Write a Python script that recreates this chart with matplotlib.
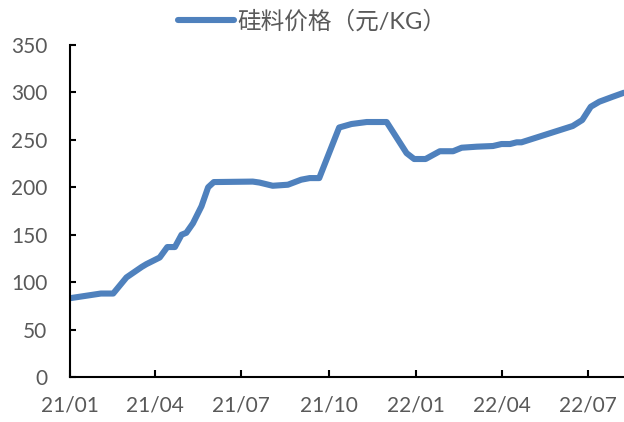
import numpy as np
import pandas as pd
import matplotlib
matplotlib.use('Agg')
from matplotlib import pyplot as plt
import matplotlib.dates as mdates

LINE_COLOR = '#4f81bd'
TEXT_COLOR = '#595959'

dates = ['2021-01-01', '2021-02-03', '2021-02-16', '2021-03-02', '2021-03-18',
         '2021-03-23', '2021-04-06', '2021-04-14', '2021-04-22', '2021-04-29',
         '2021-05-04', '2021-05-11', '2021-05-20', '2021-05-27', '2021-06-02',
         '2021-07-13', '2021-07-20', '2021-08-03', '2021-08-19', '2021-09-02',
         '2021-09-11', '2021-09-21', '2021-10-12', '2021-10-25', '2021-11-10',
         '2021-12-01', '2021-12-22', '2021-12-30', '2022-01-11', '2022-01-26',
         '2022-02-09', '2022-02-18', '2022-03-06', '2022-03-23', '2022-04-01',
         '2022-04-10', '2022-04-17', '2022-04-22', '2022-06-15', '2022-06-25',
         '2022-07-04', '2022-07-13', '2022-07-27', '2022-08-08']
prices = [83, 88, 88, 105, 116,
          119, 126, 137, 137, 150,
          152, 162, 180, 200, 205.5,
          206, 205, 201.6, 202.7, 208,
          209.7, 209.7, 263, 266.7, 268.8,
          268.8, 236, 229.8, 229.8, 238,
          238, 241.7, 242.8, 243.5, 245.6,
          245.6, 247.4, 247.4, 264.6, 270.9,
          284.9, 290.2, 295.4, 299.7]

tick_dates = ['2021-01-01', '2021-04-01', '2021-07-01', '2021-10-01',
              '2022-01-01', '2022-04-01', '2022-07-01']
tick_labels = ['21/01', '21/04', '21/07', '21/10', '22/01', '22/04', '22/07']
y_ticks = [0, 50, 100, 150, 200, 250, 300, 350]

plt.rcParams['font.family'] = ['Lato', 'Noto Sans CJK SC', 'DejaVu Sans']

x = pd.to_datetime(dates)

fig = plt.figure(figsize=(6.24, 4.22), dpi=100)
ax = fig.add_axes([0.1114, 0.1066, 0.8886, 0.7868])

ax.plot(x, prices, color=LINE_COLOR, linewidth=4.4, solid_joinstyle='round',
        solid_capstyle='round', label='硅料价格（元/KG）')

ax.set_xlim(pd.Timestamp('2021-01-01'), pd.Timestamp('2022-08-08'))
ax.set_ylim(0, 350)
ax.set_xticks(pd.to_datetime(tick_dates))
ax.set_xticklabels(tick_labels)
ax.set_yticks(y_ticks)

for side in ['top', 'right']:
    ax.spines[side].set_visible(False)
for side in ['left', 'bottom']:
    ax.spines[side].set_linewidth(1.5)
    ax.spines[side].set_color('black')

ax.tick_params(axis='y', direction='in', length=4, width=1.5, pad=16,
               labelsize=15, labelcolor=TEXT_COLOR)
ax.tick_params(axis='x', direction='in', length=5, width=1.5, pad=13,
               labelsize=15, labelcolor=TEXT_COLOR)

leg = fig.legend(loc='center', bbox_to_anchor=(0.5, 0.95), frameon=False,
                 fontsize=17, handlelength=2.4, handletextpad=0.13)
for t in leg.get_texts():
    t.set_color(TEXT_COLOR)

fig.savefig('out.png', dpi=100)
